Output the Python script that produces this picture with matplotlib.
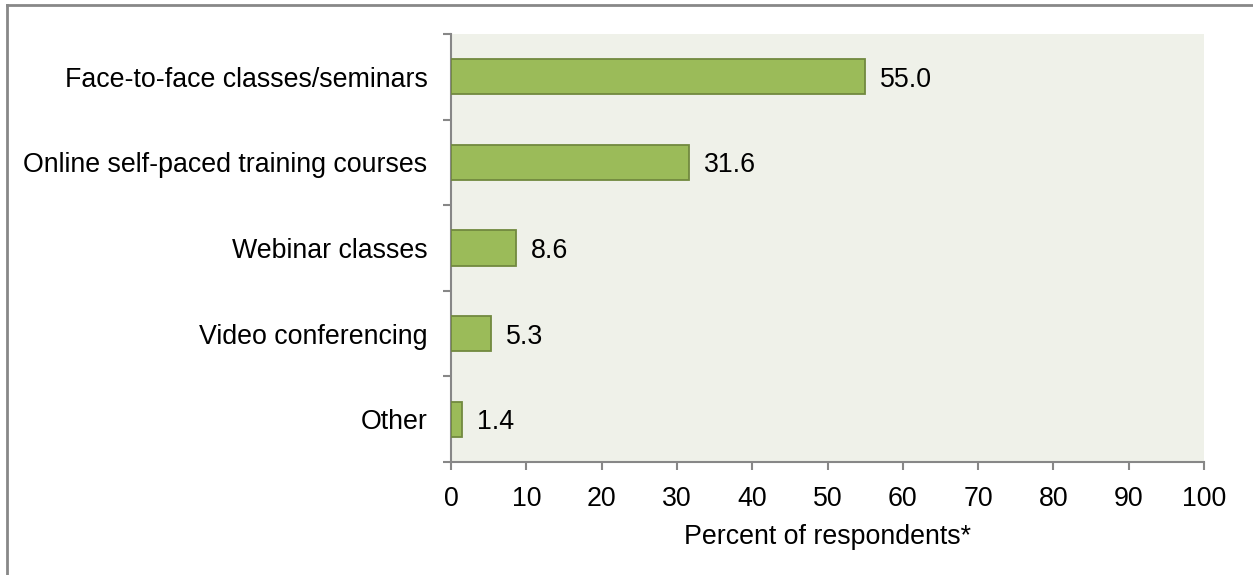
import matplotlib
matplotlib.use("Agg")
import matplotlib.pyplot as plt
from matplotlib.lines import Line2D

categories = ["Face-to-face classes/seminars", "Online self-paced training courses",
              "Webinar classes", "Video conferencing", "Other"]
values = [55.0, 31.6, 8.6, 5.3, 1.4]
xticks = [0, 10, 20, 30, 40, 50, 60, 70, 80, 90, 100]
xlabel = "Percent of respondents*"

plt.rcParams['font.family'] = ['Liberation Sans', 'DejaVu Sans']
FS = 19.3
W, H = 1253, 575
fig = plt.figure(figsize=(W/100, H/100), dpi=100)
ax = fig.add_axes([451/W, (H-462)/H, 753/W, 428/H])
ax.set_facecolor("#EFF1E9")

n = len(categories)
pos = list(range(n))
ax.barh(pos, values, height=0.41, color="#9BBB59", edgecolor="#71893F", linewidth=1.3, zorder=3)
for p, v in zip(pos, values):
    ax.text(v + 2.0, p, f"{v:.1f}", va="center_baseline", ha="left", fontsize=FS, color="black")

ax.set_ylim(n - 0.5, -0.5)
ax.set_xlim(0, 100)
ax.set_xticks(xticks)
ax.set_xticklabels([str(t) for t in xticks], fontsize=FS)
ax.set_yticks([p - 0.5 for p in pos] + [n - 0.5])
ax.set_yticklabels([])
ax.set_yticks(pos, minor=True)
ax.set_yticklabels(categories, minor=True, fontsize=FS)
ax.tick_params(axis='y', which='minor', length=0, pad=17)
ax.tick_params(axis='y', which='major', length=6, width=1.5, color="#878787")
ax.tick_params(axis='x', length=6, width=1.5, color="#878787", pad=11)
for s in ["top", "right"]:
    ax.spines[s].set_visible(False)
for s in ["left", "bottom"]:
    ax.spines[s].set_color("#878787")
    ax.spines[s].set_linewidth(1.5)
ax.set_xlabel(xlabel, fontsize=FS, labelpad=9)

# outer frame lines
fig.add_artist(Line2D([6.5/W, 6.5/W], [0, 1 - 4.5/H], transform=fig.transFigure, color="#888888", lw=2))
fig.add_artist(Line2D([6.5/W, 1], [1 - 4.5/H, 1 - 4.5/H], transform=fig.transFigure, color="#888888", lw=2))

fig.savefig("out.png", dpi=100)
